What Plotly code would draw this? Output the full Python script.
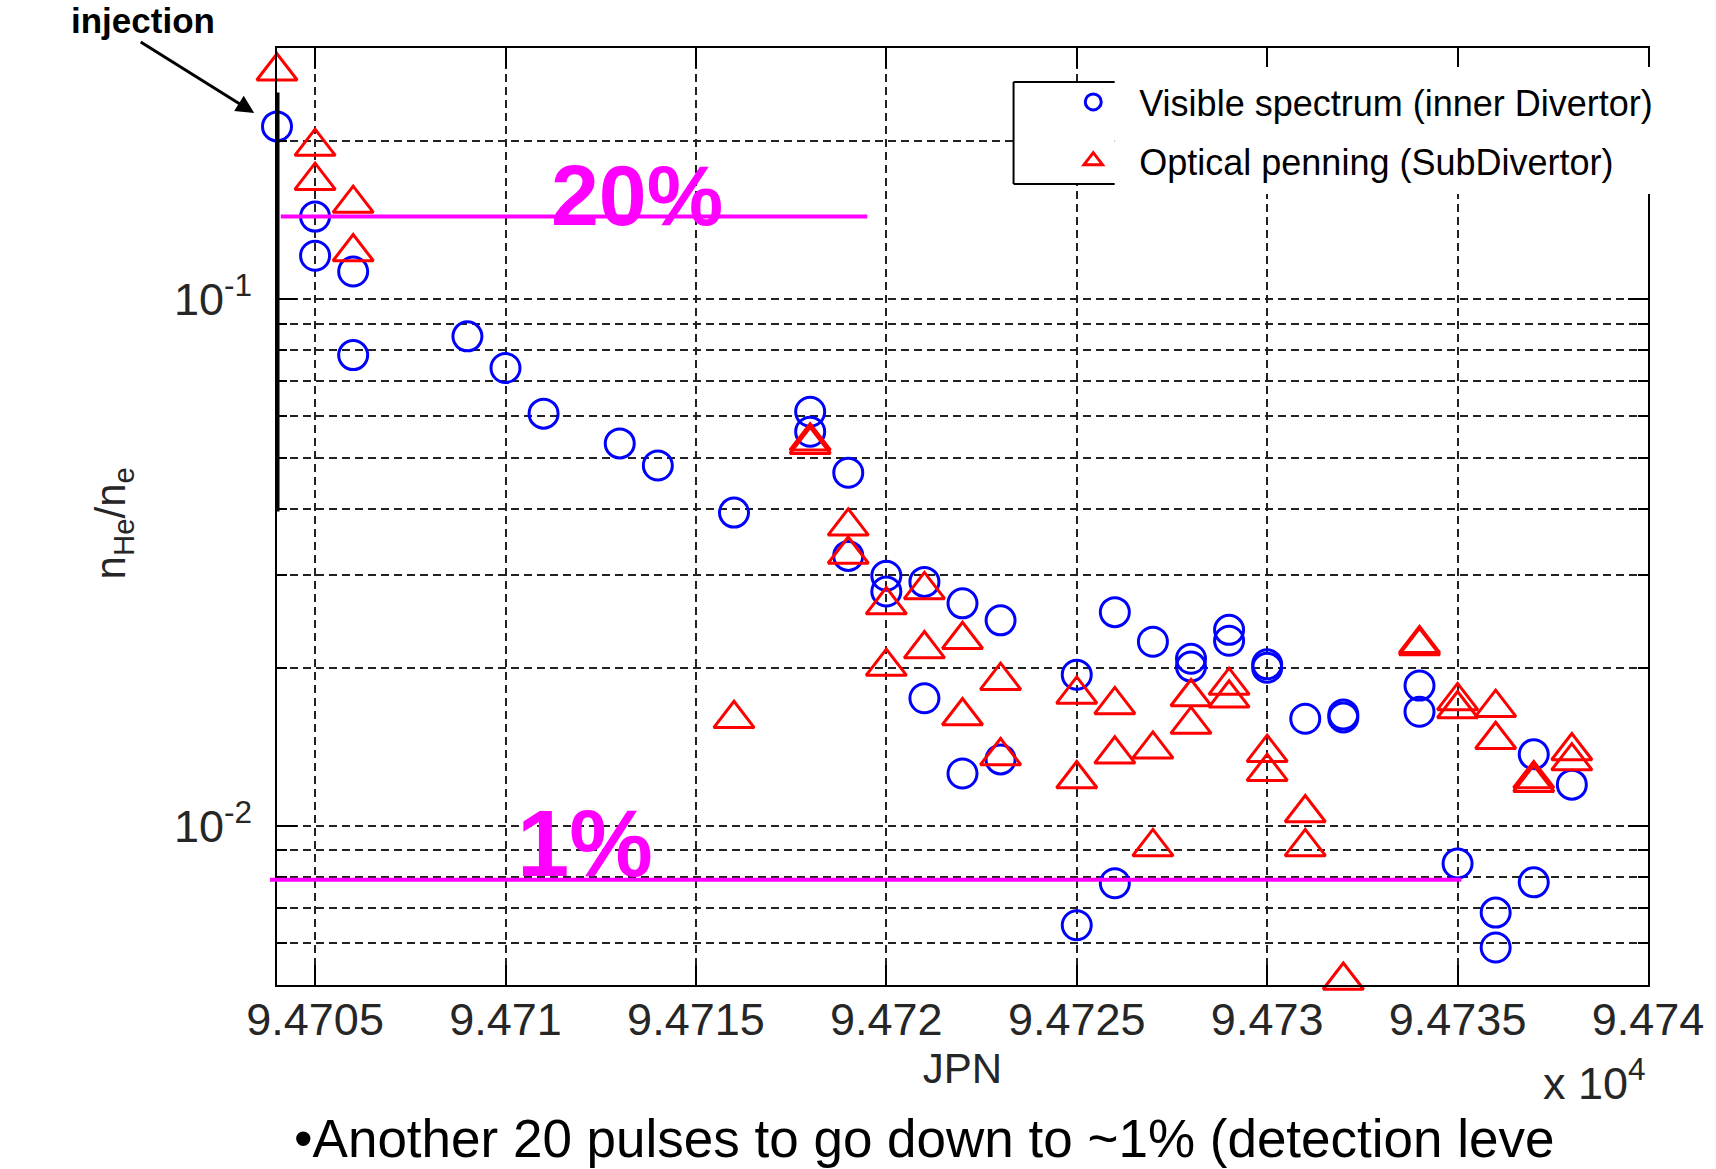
import math
import plotly.graph_objects as go

# ---------------- data ----------------
vis_jpn = [94704, 94705, 94705, 94706, 94706, 94709, 94710, 94711, 94713, 94714,
           94716, 94718, 94718, 94719, 94719, 94720, 94720, 94721, 94721, 94722,
           94722, 94723, 94723, 94725, 94725, 94726, 94726, 94727, 94728, 94728,
           94729, 94729, 94730, 94730, 94731, 94732, 94732, 94734, 94734, 94735,
           94736, 94736, 94737, 94737, 94738]
vis_ratio = [0.213, 0.1436, 0.121, 0.113, 0.0784, 0.0851, 0.0741, 0.0607, 0.0533, 0.0484,
             0.0394, 0.0612, 0.0561, 0.0469, 0.0326, 0.0299, 0.0279, 0.0291, 0.0175, 0.0265,
             0.0126, 0.0246, 0.0134, 0.0194, 0.00649, 0.0255, 0.0078, 0.0224, 0.0208, 0.0201,
             0.0236, 0.0225, 0.0203, 0.0200, 0.0160, 0.0163, 0.0161, 0.0185, 0.0165, 0.0085,
             0.00686, 0.00589, 0.0137, 0.00783, 0.0120]

pen_jpn = [94704, 94705, 94705, 94706, 94706, 94716, 94718, 94718, 94719, 94719,
           94720, 94720, 94721, 94721, 94722, 94722, 94723, 94723, 94725, 94725,
           94726, 94726, 94727, 94727, 94728, 94728, 94729, 94729, 94730, 94730,
           94731, 94731, 94732, 94734, 94734, 94735, 94735, 94736, 94736, 94737,
           94737, 94738, 94738]
pen_ratio = [0.271, 0.195, 0.168, 0.152, 0.123, 0.0160, 0.0538, 0.0530, 0.0371, 0.0328,
             0.0263, 0.0201, 0.0281, 0.0217, 0.0226, 0.0162, 0.0189, 0.0136, 0.0178, 0.0123,
             0.0170, 0.0137, 0.0140, 0.00914, 0.0176, 0.0156, 0.0185, 0.0175, 0.0138, 0.0127,
             0.0106, 0.00914, 0.0051, 0.0222, 0.0220, 0.0173, 0.0167, 0.0168, 0.0146, 0.0123,
             0.0121, 0.0139, 0.0133]

series_names = ["Visible spectrum (inner Divertor)", "Optical penning (SubDivertor)"]

x_tickvals = [94705, 94710, 94715, 94720, 94725, 94730, 94735, 94740]
x_ticktext = ["9.4705", "9.471", "9.4715", "9.472", "9.4725", "9.473", "9.4735", "9.474"]
y_major_vals = [0.01, 0.1]
y_major_text = ["10<sup>-2</sup>", "10<sup>-1</sup>"]
y_minor_vals = [0.005, 0.006, 0.007, 0.008, 0.009, 0.02, 0.03, 0.04, 0.05,
                0.06, 0.07, 0.08, 0.09, 0.2, 0.3]

x_range = [94704, 94740]
y_range = [0.005, 0.3]

# reference levels drawn on the chart
level_20 = 0.1436          # "20%" line
level_20_x = [94704.1, 94719.5]
level_1 = 0.00792          # "1%" line
level_1_x_end = 94735.1
injection_bar_x = 94704
injection_bar_y = [0.0396, 0.247]

# ---------------- layout geometry ----------------
W, H = 1716, 1169
ML, MR, MT, MB = 277, 56, 48, 184
PW = W - ML - MR
PH = H - MT - MB


def px(xp):
    return (xp - ML) / PW


def py(yp):
    return (H - MB - yp) / PH


FONT = "Arial, Liberation Sans, Helvetica, sans-serif"
TICK_COLOR = "#262626"
GRID_DASH = "8px,5px"
TICK_SIZE = 45

fig = go.Figure()
fig.add_trace(go.Scatter(
    x=vis_jpn, y=vis_ratio, mode="markers", name=series_names[0],
    legendgroup="a", cliponaxis=False,
    marker=dict(symbol="circle-open", size=29, color="#0000FF",
                line=dict(width=3, color="#0000FF")),
))
fig.add_trace(go.Scatter(
    x=pen_jpn, y=pen_ratio, mode="markers", name=series_names[1],
    legendgroup="b", cliponaxis=False,
    marker=dict(symbol="triangle-up-open", size=35, color="#FF0000",
                line=dict(width=3, color="#FF0000")),
))

shapes = []
# injection bar on the left axis
shapes.append(dict(type="line", xref="x", yref="y",
                   x0=injection_bar_x, x1=injection_bar_x,
                   y0=injection_bar_y[0], y1=injection_bar_y[1],
                   line=dict(color="black", width=5), layer="above"))
# 20% and 1% lines
shapes.append(dict(type="line", xref="x", yref="y",
                   x0=level_20_x[0], x1=level_20_x[1], y0=level_20, y1=level_20,
                   line=dict(color="#FF00FF", width=4), layer="above"))
shapes.append(dict(type="line", xref="paper", yref="y",
                   x0=px(270), x1=(level_1_x_end - x_range[0]) / (x_range[1] - x_range[0]),
                   y0=level_1, y1=level_1,
                   line=dict(color="#FF00FF", width=4), layer="above"))
# legend background / partial box
shapes.append(dict(type="rect", xref="paper", yref="paper",
                   x0=px(1122), x1=px(1680), y0=py(194), y1=py(67),
                   fillcolor="white", line=dict(width=0), layer="above"))
shapes.append(dict(type="rect", xref="paper", yref="paper",
                   x0=px(1020), x1=px(1122), y0=py(184), y1=py(82),
                   fillcolor="white", line=dict(width=0), layer="above"))
for (a, b, c, d) in [(1020, 82, 1020, 184), (1020, 82, 1122, 82), (1020, 184, 1122, 184)]:
    shapes.append(dict(type="line", xref="paper", yref="paper",
                       x0=px(a), y0=py(b), x1=px(c), y1=py(d),
                       line=dict(color="black", width=2), layer="above"))

annotations = [
    dict(text="<b>20%</b>", xref="paper", yref="paper", x=px(640), y=py(195),
         showarrow=False, font=dict(size=86, color="#FF00FF", family=FONT),
         xanchor="center", yanchor="middle"),
    dict(text="<b>1%</b>", xref="paper", yref="paper", x=px(588), y=py(843),
         showarrow=False, font=dict(size=94, color="#FF00FF", family=FONT),
         xanchor="center", yanchor="middle"),
    dict(text="<b>injection</b>", xref="paper", yref="paper", x=px(142), y=py(21),
         showarrow=False, font=dict(size=35, color="black", family=FONT),
         xanchor="center", yanchor="middle"),
    dict(text="", xref="paper", yref="paper", x=px(254), y=py(113),
         ax=139 - 254, ay=41 - 113, showarrow=True, arrowhead=2,
         arrowsize=1.2, arrowwidth=3, arrowcolor="black"),
    dict(text="x 10<sup>4</sup>", xref="paper", yref="paper", x=px(1606), y=py(1080),
         showarrow=False, font=dict(size=TICK_SIZE, color=TICK_COLOR, family=FONT),
         xanchor="center", yanchor="middle"),
    dict(text="•Another 20 pulses to go down to ~1% (detection leve",
         xref="paper", yref="paper", x=px(292), y=py(1138),
         showarrow=False, font=dict(size=53, color="black", family=FONT),
         xanchor="left", yanchor="middle"),
    dict(text="n<sub>He</sub>/n<sub>e</sub>", xref="paper", yref="paper",
         x=px(112), y=py(523), textangle=-90, showarrow=False,
         font=dict(size=42, color=TICK_COLOR, family=FONT),
         xanchor="center", yanchor="middle"),
]

fig.update_layout(
    width=W, height=H,
    margin=dict(l=ML, r=MR, t=MT, b=MB, pad=0),
    paper_bgcolor="white", plot_bgcolor="white",
    font=dict(family=FONT, color=TICK_COLOR),
    showlegend=True,
    legend=dict(x=px(1054), y=py(72), xanchor="left", yanchor="top",
                font=dict(size=36, color="black", family=FONT),
                bgcolor="rgba(0,0,0,0)", borderwidth=0, itemwidth=82,
                traceorder="grouped", tracegroupgap=9),
    shapes=shapes,
    annotations=annotations,
    xaxis=dict(
        range=x_range, tickmode="array", tickvals=x_tickvals, ticktext=x_ticktext,
        ticks="inside", ticklen=20, tickwidth=2, tickcolor="black",
        showline=True, linecolor="black", linewidth=2, mirror="ticks",
        showgrid=True, gridcolor="#222222", gridwidth=1.5, griddash=GRID_DASH,
        zeroline=False, tickfont=dict(size=TICK_SIZE, color=TICK_COLOR, family=FONT),
        ticklabelstandoff=-6, ticklabeloverflow="allow",
        title=dict(text="JPN", font=dict(size=42, color=TICK_COLOR, family=FONT), standoff=8),
    ),
    yaxis=dict(
        type="log", range=[math.log10(y_range[0]), math.log10(y_range[1])],
        tickmode="array", tickvals=y_major_vals, ticktext=y_major_text,
        ticks="inside", ticklen=20, tickwidth=2, tickcolor="black",
        showline=True, linecolor="black", linewidth=2, mirror="ticks",
        showgrid=True, gridcolor="#222222", gridwidth=1.5, griddash=GRID_DASH,
        zeroline=False, tickfont=dict(size=TICK_SIZE, color=TICK_COLOR, family=FONT),
        ticklabelstandoff=14, ticklabeloverflow="allow",
        minor=dict(tickmode="array", tickvals=y_minor_vals, ticks="inside", ticklen=10,
                   tickwidth=1.5, tickcolor="black", showgrid=True,
                   gridcolor="#222222", gridwidth=1.5, griddash=GRID_DASH),
    ),
)

fig.write_html("out.html", config={"displayModeBar": False},
               post_script="document.body.style.margin='0';")
